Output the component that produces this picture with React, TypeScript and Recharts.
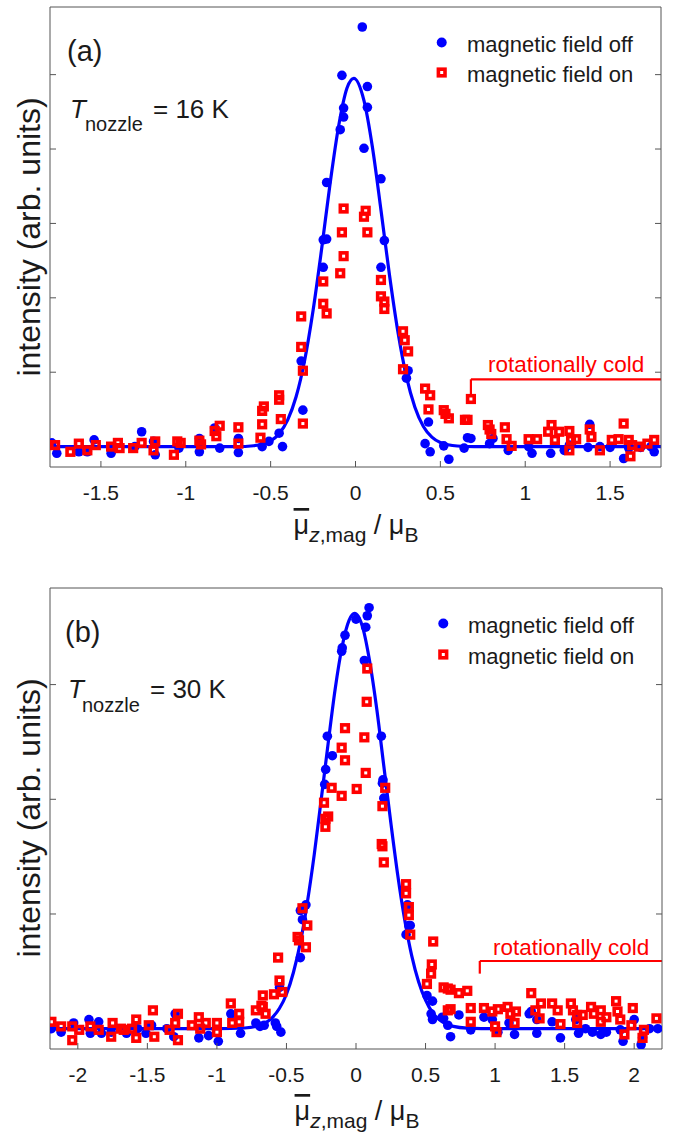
import { ComposedChart, Line, ReferenceLine, Scatter, XAxis, YAxis } from 'recharts'

const FONT = '"Liberation Sans", Arial, Helvetica, sans-serif'
const BLUE = '#0000ff'
const RED = '#ff0000'
const AXIS = '#555555'
const INK = '#1a1a1a'

// (a) T_nozzle = 16 K : [mu, intensity]
const offA: [number, number][] = [
  [-1.79, 0.05], [-1.76, -0.09], [-1.63, -0.07], [-1.58, -0.07], [-1.54, 0.09],
  [-1.44, -0.09], [-1.3, 0.0], [-1.26, 0.2], [-1.19, 0.07], [-1.18, -0.11],
  [-1.04, -0.02], [-0.92, 0.11], [-0.92, -0.07], [-0.83, 0.25], [-0.8, -0.02],
  [-0.69, 0.11], [-0.69, -0.08], [-0.55, 0.0], [-0.51, 0.07], [-0.45, 0.18],
  [-0.43, 0.0], [-0.32, 1.15], [-0.31, 0.49], [-0.19, 2.78], [-0.17, 2.79],
  [-0.19, 2.41], [-0.17, 3.55], [-0.09, 4.26], [-0.07, 4.55], [-0.07, 4.43],
  [-0.08, 4.99], [0.04, 5.64], [0.07, 4.84], [0.07, 4.56], [0.05, 4.01],
  [0.15, 3.6], [0.17, 2.77], [0.15, 2.41], [0.3, 0.92], [0.31, 1.02],
  [0.43, 0.33], [0.41, 0.04], [0.44, -0.07], [0.52, 0.01], [0.55, -0.17],
  [0.66, 0.12], [0.68, 0.11], [0.64, -0.02], [0.79, 0.04], [0.81, 0.11],
  [0.9, -0.05], [1.02, 0.0], [1.04, -0.09], [1.15, -0.09], [1.23, -0.05],
  [1.26, 0.02], [1.37, -0.01], [1.38, 0.3], [1.44, 0.0], [1.5, -0.01],
  [1.58, -0.16], [1.61, -0.02], [1.68, -0.01], [1.74, 0.0], [1.76, -0.07],
]

const onA: [number, number][] = [
  [-1.77, 0.02], [-1.68, -0.07], [-1.63, 0.04], [-1.58, -0.05], [-1.53, 0.02],
  [-1.44, 0.0], [-1.4, 0.05], [-1.39, -0.02], [-1.31, -0.02], [-1.26, 0.05],
  [-1.19, -0.05], [-1.18, 0.07], [-1.07, -0.11], [-1.05, 0.07], [-1.03, 0.05],
  [-0.92, 0.08], [-0.91, 0.03], [-0.83, 0.21], [-0.82, 0.14], [-0.8, 0.28],
  [-0.69, 0.26], [-0.69, 0.04], [-0.56, 0.12], [-0.55, 0.3], [-0.55, 0.48],
  [-0.54, 0.54], [-0.45, 0.69], [-0.45, 0.63], [-0.44, 0.37], [-0.32, 1.75],
  [-0.32, 1.34], [-0.31, 1.02], [-0.31, 0.31], [-0.19, 2.22], [-0.19, 1.92],
  [-0.17, 1.79], [-0.09, 2.33], [-0.07, 2.56], [-0.08, 2.88], [-0.07, 3.2],
  [0.06, 3.17], [0.05, 3.09], [0.07, 2.88], [0.15, 2.24], [0.15, 2.02],
  [0.17, 1.95], [0.17, 1.85], [0.28, 1.55], [0.29, 1.43], [0.31, 1.28],
  [0.28, 1.04], [0.41, 0.78], [0.44, 0.69], [0.43, 0.5], [0.52, 0.49],
  [0.53, 0.44], [0.55, 0.38], [0.68, 0.64], [0.645, 0.36], [0.66, 0.36],
  [0.78, 0.29], [0.79, 0.23], [0.8, 0.17], [0.88, 0.26], [0.89, 0.1],
  [0.92, 0.01], [1.02, 0.1], [1.07, 0.1], [1.155, 0.29], [1.135, 0.2],
  [1.175, 0.09], [1.2, 0.2], [1.26, 0.21], [1.27, 0.09], [1.26, -0.05],
  [1.3, 0.1], [1.38, 0.23], [1.39, 0.13], [1.44, -0.05], [1.51, 0.09],
  [1.55, 0.1], [1.58, 0.31], [1.61, 0.09], [1.63, 0.02], [1.62, -0.13],
  [1.67, 0.0], [1.72, 0.04], [1.76, 0.09],
]

const fitA: [number, number][] = [
  [-1.8, 0], [-1.0, 0], [-0.7, 0.0], [-0.6, 0.012], [-0.5, 0.078], [-0.45, 0.174],
  [-0.4, 0.357], [-0.35, 0.67], [-0.3, 1.155], [-0.25, 1.83], [-0.2, 2.65],
  [-0.15, 3.53], [-0.1, 4.3], [-0.05, 4.82], [-0.01, 4.95], [0.05, 4.65],
  [0.1, 4.02], [0.15, 3.18], [0.2, 2.31], [0.25, 1.54], [0.3, 0.94], [0.35, 0.53],
  [0.4, 0.27], [0.45, 0.127], [0.5, 0.055], [0.6, 0.008], [0.7, 0], [1.0, 0], [1.8, 0],
]

// (b) T_nozzle = 30 K
const offB: [number, number][] = [
  [-2.19, 0.0], [-2.12, -0.03], [-2.03, 0.05], [-1.92, 0.08], [-1.91, -0.04],
  [-1.85, 0.06], [-1.83, -0.04], [-1.76, -0.03], [-1.65, -0.04], [-1.57, 0.0],
  [-1.51, -0.04], [-1.47, 0.03], [-1.36, 0.0], [-1.31, -0.07], [-1.3, 0.13],
  [-1.13, -0.08], [-1.06, -0.06], [-0.99, -0.11], [-0.9, 0.13], [-0.83, -0.04],
  [-0.72, 0.05], [-0.69, 0.02], [-0.66, 0.03], [-0.58, 0.05], [-0.54, -0.03],
  [-0.57, 0.02], [-0.55, 0.36], [-0.36, 1.08], [-0.4, 1.03], [-0.385, 0.95],
  [-0.4, 0.62], [-0.225, 2.13], [-0.218, 2.26], [-0.206, 2.55], [-0.17, 2.38],
  [-0.103, 3.29], [-0.099, 3.32], [-0.079, 3.43], [0.0, 3.57], [0.07, 3.5],
  [0.081, 3.6], [0.094, 3.67], [0.06, 3.21], [0.182, 2.55], [0.194, 2.17],
  [0.19, 2.14], [0.2, 2.01], [0.37, 1.08], [0.38, 0.9], [0.39, 0.9], [0.36, 0.82],
  [0.51, 0.29], [0.55, 0.24], [0.54, 0.13], [0.55, 0.08], [0.62, 0.1],
  [0.63, 0.09], [0.66, 0.03], [0.68, -0.07], [0.74, 0.12], [0.825, -0.01],
  [0.92, 0.1], [0.98, 0.08], [1.02, -0.03], [1.1, 0.05], [1.14, -0.05],
  [1.245, 0.13], [1.26, 0.15], [1.3, 0.08], [1.3, -0.04], [1.41, 0.06],
  [1.47, -0.08], [1.58, 0.08], [1.6, -0.04], [1.65, 0.0], [1.7, -0.03],
  [1.76, -0.05], [1.8, -0.03], [1.9, -0.01], [1.92, -0.11], [2.0, 0.08],
  [2.05, -0.14], [2.06, -0.08], [2.11, 0.0], [2.17, 0.0],
]

const onB: [number, number][] = [
  [-2.19, 0.06], [-2.12, 0.02], [-2.04, -0.1], [-2.04, 0.02], [-1.99, -0.01],
  [-1.91, 0.02], [-1.85, -0.01], [-1.75, 0.05], [-1.76, -0.07], [-1.69, 0.0],
  [-1.67, -0.01], [-1.58, 0.08], [-1.58, -0.08], [-1.61, 0.0], [-1.46, 0.16],
  [-1.45, -0.07], [-1.49, 0.03], [-1.28, 0.13], [-1.3, 0.05], [-1.28, -0.1],
  [-1.34, -0.01], [-1.13, 0.1], [-1.12, 0.0], [-1.08, 0.05], [-1.18, 0.03],
  [-1.0, 0.05], [-1.0, -0.03], [-0.9, 0.22], [-0.84, 0.13], [-0.84, 0.06],
  [-0.89, 0.05], [-0.72, 0.16], [-0.67, 0.19], [-0.65, 0.13], [-0.67, 0.29],
  [-0.68, 0.2], [-0.59, 0.3], [-0.53, 0.32], [-0.55, 0.42], [-0.56, 0.62],
  [-0.385, 1.05], [-0.35, 0.9], [-0.42, 0.8], [-0.41, 0.77], [-0.36, 0.71],
  [-0.23, 1.97], [-0.2, 1.85], [-0.22, 1.83], [-0.22, 1.76], [-0.175, 2.1],
  [-0.103, 2.03], [0.005, 2.09], [-0.079, 2.62], [-0.103, 2.45], [-0.079, 2.34],
  [0.06, 2.54], [0.07, 2.23], [0.077, 2.85], [0.081, 3.14], [0.21, 2.1],
  [0.19, 1.94], [0.185, 1.61], [0.19, 1.59], [0.2, 1.45], [0.36, 1.26],
  [0.36, 1.18], [0.38, 1.06], [0.38, 0.99], [0.39, 0.82], [0.51, 0.39],
  [0.54, 0.48], [0.545, 0.56], [0.555, 0.76], [0.63, 0.36], [0.66, 0.35],
  [0.68, 0.34], [0.66, 0.16], [0.68, 0.17], [0.74, 0.31], [0.8, 0.33],
  [0.825, 0.18], [0.825, 0.06], [0.92, 0.18], [0.98, 0.15], [1.02, 0.17],
  [1.0, 0.02], [1.01, -0.03], [1.09, 0.19], [1.11, 0.13], [1.15, 0.15],
  [1.14, 0.05], [1.26, 0.31], [1.33, 0.22], [1.32, 0.09], [1.29, 0.16],
  [1.41, 0.22], [1.45, 0.16], [1.47, 0.04], [1.545, 0.22], [1.56, 0.16],
  [1.59, 0.12], [1.59, 0.05], [1.63, 0.12], [1.69, 0.19], [1.71, 0.13],
  [1.76, 0.16], [1.76, 0.06], [1.8, 0.1], [1.87, 0.24], [1.88, 0.15],
  [1.9, 0.08], [1.93, -0.05], [1.99, 0.18], [1.98, 0.03], [2.06, -0.08],
  [2.07, -0.01], [2.16, 0.09],
]

const fitB: [number, number][] = [
  [-2.2, 0], [-1.0, 0], [-0.8, 0.006], [-0.7, 0.026], [-0.6, 0.099], [-0.55, 0.178],
  [-0.5, 0.3], [-0.45, 0.49], [-0.4, 0.75], [-0.35, 1.1], [-0.3, 1.52], [-0.25, 2.0],
  [-0.2, 2.49], [-0.15, 2.96], [-0.1, 3.33], [-0.05, 3.56], [-0.01, 3.62],
  [0.05, 3.49], [0.1, 3.19], [0.15, 2.78], [0.2, 2.29], [0.25, 1.8], [0.3, 1.34],
  [0.35, 0.95], [0.4, 0.64], [0.45, 0.41], [0.5, 0.25], [0.55, 0.14], [0.6, 0.078],
  [0.7, 0.02], [0.8, 0.005], [1.0, 0], [2.2, 0],
]

const xTicksA = [-1.5, -1, -0.5, 0, 0.5, 1, 1.5]
const xTicksB = [-2, -1.5, -1, -0.5, 0, 0.5, 1, 1.5, 2]
const yTicksA = [1, 2, 3, 4, 5]
const yTicksB = [1, 2, 3]

const toPts = (arr: [number, number][]) => arr.map(([x, y]) => ({ x, y }))

const Dot = (p: any) => <circle cx={p.cx} cy={p.cy} r={4.8} fill={BLUE} />
const Square = (p: any) => (
  <rect x={p.cx - 3.3} y={p.cy - 3.3} width={6.6} height={6.6} fill="none" stroke={RED} strokeWidth={3.6} />
)

// axes are 1px thick boxes, so the props x/y sit on the plot edge
const BottomTick = (p: any) => (
  <g>
    <line x1={p.x} y1={p.y} x2={p.x} y2={p.y - 6} stroke={AXIS} />
    <text x={p.x} y={p.y + 33} textAnchor="middle" fontSize={21} fontFamily={FONT} fill={INK}>
      {String(p.payload.value)}
    </text>
  </g>
)
const TopTick = (p: any) => <line x1={p.x} y1={p.y} x2={p.x} y2={p.y + 6} stroke={AXIS} />
const LeftTick = (p: any) => <line x1={p.x} y1={p.y} x2={p.x + 6} y2={p.y} stroke={AXIS} />
const RightTick = (p: any) => <line x1={p.x} y1={p.y} x2={p.x - 6} y2={p.y} stroke={AXIS} />

interface PanelProps {
  top: number
  height: number
  margin: { top: number; right: number; bottom: number; left: number }
  xDomain: [number, number]
  yDomain: [number, number]
  xTicks: number[]
  yTicks: number[]
  off: [number, number][]
  on: [number, number][]
  fit: [number, number][]
  bracket: { x: number; y: number; low: number }
  label: string
  temp: string
  t: {
    tag: [number, number]
    tx: [number, number]
    sub: [number, number]
    eq: [number, number]
    leg: [number, number]
    legOff: number
    legOn: number
    cold: [number, number]
    xlab: [number, number]
    ylab: [number, number]
  }
}

function Panel({ top, height, margin, xDomain, yDomain, xTicks, yTicks, off, on, fit, bracket, label, temp, t }: PanelProps) {
  const axisCommon = {
    type: 'number' as const,
    allowDataOverflow: true,
    tickSize: 0,
    tickMargin: 0,
    tickLine: false,
    interval: 0 as const,
    axisLine: { stroke: AXIS, strokeWidth: 1 },
  }
  return (
    <div style={{ position: 'absolute', left: 0, top, width: 679, height }}>
      <ComposedChart width={679} height={height} margin={margin}>
        <XAxis dataKey="x" domain={xDomain} ticks={xTicks} height={1} tick={BottomTick} {...axisCommon} />
        <XAxis xAxisId="t" orientation="top" domain={xDomain} ticks={xTicks} height={1} tick={TopTick} {...axisCommon} />
        <YAxis dataKey="y" domain={yDomain} ticks={yTicks} width={1} tick={LeftTick} {...axisCommon} />
        <YAxis yAxisId="r" orientation="right" domain={yDomain} ticks={yTicks} width={1} tick={RightTick} {...axisCommon} />
        <Scatter data={toPts(off)} fill={BLUE} shape={Dot} isAnimationActive={false} />
        <Scatter data={toPts(on)} fill={RED} shape={Square} isAnimationActive={false} />
        <Line data={toPts(fit)} dataKey="y" type="monotone" stroke={BLUE} strokeWidth={3.2} dot={false} isAnimationActive={false} />
        <ReferenceLine
          segment={[{ x: bracket.x, y: bracket.y }, { x: xDomain[1], y: bracket.y }]}
          stroke={RED}
          strokeWidth={2.2}
          ifOverflow="visible"
        />
        <ReferenceLine
          segment={[{ x: bracket.x, y: bracket.y }, { x: bracket.x, y: bracket.low }]}
          stroke={RED}
          strokeWidth={2.2}
          ifOverflow="visible"
        />
      </ComposedChart>
      <svg
        width={679}
        height={height}
        style={{ position: 'absolute', left: 0, top: 0, pointerEvents: 'none' }}
        fontFamily={FONT}
      >
        <text x={t.tag[0]} y={t.tag[1]} fontSize={29} fill={INK}>{label}</text>
        <text x={t.tx[0]} y={t.tx[1]} fontSize={26} fontStyle="italic" fill={INK}>T</text>
        <text x={t.sub[0]} y={t.sub[1]} fontSize={20} fill={INK}>nozzle</text>
        <text x={t.eq[0]} y={t.eq[1]} fontSize={26} fill={INK}>{temp}</text>

        <circle cx={t.leg[0]} cy={t.legOff - 9.5} r={5} fill={BLUE} />
        <rect x={t.leg[0] - 3.3} y={t.legOn - 9.5 - 3.3} width={6.6} height={6.6} fill="none" stroke={RED} strokeWidth={3.6} />
        <text x={t.leg[1]} y={t.legOff} fontSize={22} fill={INK}>magnetic field off</text>
        <text x={t.leg[1]} y={t.legOn} fontSize={22} fill={INK}>magnetic field on</text>

        <text x={t.cold[0]} y={t.cold[1]} fontSize={22.5} fill={RED}>rotationally cold</text>

        <text x={t.xlab[0]} y={t.xlab[1]} fontSize={27} textAnchor="middle" fill={INK}>
          <tspan textDecoration="overline">μ</tspan>
          <tspan dy={8} fontSize={21}>
            <tspan fontStyle="italic">z</tspan>,mag
          </tspan>
          <tspan dy={-8}> / μ</tspan>
          <tspan dy={8} fontSize={21}>B</tspan>
        </text>
        <text
          x={t.ylab[0]}
          y={t.ylab[1]}
          fontSize={32}
          textAnchor="middle"
          fill={INK}
          transform={`rotate(-90 ${t.ylab[0]} ${t.ylab[1]})`}
        >
          intensity (arb. units)
        </text>
      </svg>
    </div>
  )
}

export default function App() {
  return (
    <div style={{ position: 'absolute', left: 0, top: 0, width: 679, height: 1135, background: '#fff' }}>
      <Panel
        top={0}
        height={560}
        margin={{ top: 6, right: 17, bottom: 92, left: 49 }}
        xDomain={[-1.8, 1.8]}
        yDomain={[-0.274, 5.909]}
        xTicks={xTicksA}
        yTicks={yTicksA}
        off={offA}
        on={onA}
        fit={fitA}
        bracket={{ x: 0.68, y: 0.905, low: 0.69 }}
        label="(a)"
        temp="= 16 K"
        t={{
          tag: [67, 61],
          tx: [70, 118],
          sub: [85, 131],
          eq: [153, 118],
          leg: [441.7, 467],
          legOff: 52,
          legOn: 82,
          cold: [488, 372],
          xlab: [356, 534],
          ylab: [40, 237],
        }}
      />
      <Panel
        top={575}
        height={560}
        margin={{ top: 12, right: 16, bottom: 85, left: 49 }}
        xDomain={[-2.2, 2.2]}
        yDomain={[-0.177, 3.842]}
        xTicks={xTicksB}
        yTicks={yTicksB}
        off={offB}
        on={onB}
        fit={fitB}
        bracket={{ x: 0.89, y: 0.59, low: 0.48 }}
        label="(b)"
        temp="= 30 K"
        t={{
          tag: [65, 67],
          tx: [68, 123],
          sub: [82, 137],
          eq: [150, 123],
          leg: [443.3, 468],
          legOff: 58,
          legOn: 89,
          cold: [493, 380],
          xlab: [357, 545],
          ylab: [40, 243],
        }}
      />
    </div>
  )
}
